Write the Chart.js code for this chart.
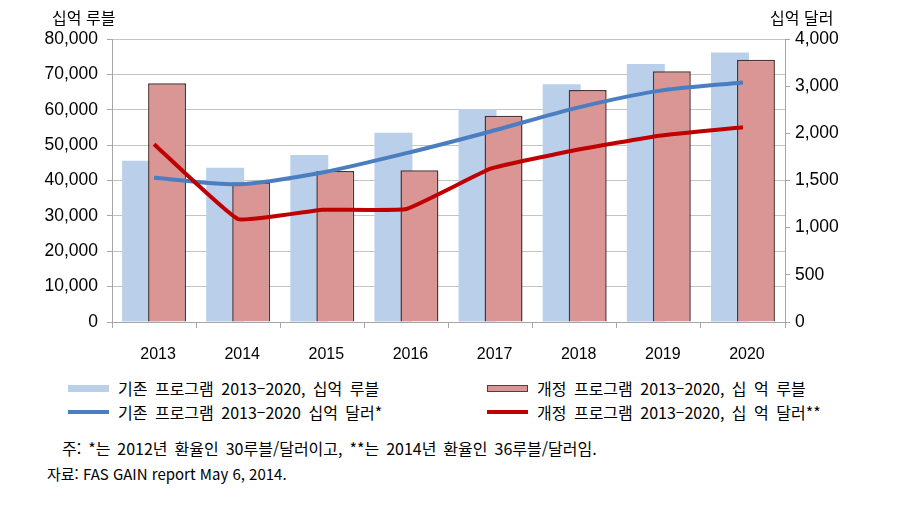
<!DOCTYPE html>
<html lang="ko">
<head>
<meta charset="utf-8">
<title>러시아 농업 프로그램 2013-2020</title>
<script src="https://cdn.jsdelivr.net/npm/chart.js@4.4.1/dist/chart.umd.min.js"></script>
<style>
  html, body {
    margin: 0;
    padding: 0;
    background: #fff;
  }
  .page {
    position: relative;
    width: 905px;
    height: 509px;
    overflow: hidden;
    font-family: "Noto Sans CJK KR", "Noto Sans", sans-serif;
    color: #000;
  }
  #chart {
    position: absolute;
    left: 0;
    top: 0;
  }
  .unit {
    position: absolute;
    top: 7px;
    font-size: 16px;
    line-height: 20px;
    white-space: nowrap;
  }
  .legend-item {
    position: absolute;
    height: 20px;
    display: flex;
    align-items: center;
    white-space: nowrap;
  }
  .legend-swatch {
    width: 41px;
    margin-right: 9px;
    box-sizing: border-box;
  }
  .swatch-bar-old { height: 7px; background: #b9cfea; }
  .swatch-bar-new { height: 7px; background: #d99695; border: 1px solid #5a3a3a; }
  .swatch-line-old { height: 4px; background: #4a7ec1; }
  .swatch-line-new { height: 4px; background: #c00000; }
  .legend-text {
    font-size: 16px;
    line-height: 20px;
    word-spacing: 3px;
  }
  .note {
    position: absolute;
    line-height: 20px;
    white-space: nowrap;
  }
</style>
</head>
<body>
<div class="page">
  <canvas id="chart" width="905" height="375"></canvas>

  <div class="unit" style="left:52px;">십억 루블</div>
  <div class="unit" style="left:770px;">십억 달러</div>

  <div class="legend-item" style="left:68px; top:378px;">
    <div class="legend-swatch swatch-bar-old"></div>
    <span class="legend-text">기존 프로그램 2013–2020, 십억 루블</span>
  </div>
  <div class="legend-item" style="left:68px; top:402px;">
    <div class="legend-swatch swatch-line-old"></div>
    <span class="legend-text">기존 프로그램 2013–2020 십억 달러*</span>
  </div>
  <div class="legend-item" style="left:487px; top:378px;">
    <div class="legend-swatch swatch-bar-new"></div>
    <span class="legend-text">개정 프로그램 2013–2020, 십 억 루블</span>
  </div>
  <div class="legend-item" style="left:487px; top:402px;">
    <div class="legend-swatch swatch-line-new"></div>
    <span class="legend-text">개정 프로그램 2013–2020, 십 억 달러**</span>
  </div>

  <div class="note" style="left:62px; top:438px; font-size:16px; word-spacing:2.5px;">주: *는 2012년 환율인 30루블/달러이고, **는 2014년 환율인 36루블/달러임.</div>
  <div class="note" style="left:47px; top:464px; font-size:15px;">자료: FAS GAIN report May 6, 2014.</div>
</div>

<script>
// categories
const years = ['2013', '2014', '2015', '2016', '2017', '2018', '2019', '2020'];

// billion rubles (left axis)
const oldProgramRub = [45600, 43600, 47200, 53500, 60200, 67200, 72900, 76200];
const newProgramRub = [67500, 39400, 42700, 42900, 58300, 65600, 70900, 74100];

// billion dollars (right axis)
const oldProgramUsd = [1530, 1460, 1585, 1790, 2020, 2265, 2450, 2540];
const newProgramUsd = [1885, 1090, 1190, 1198, 1625, 1820, 1975, 2065];

// right axis labels as printed in the source
const rightTickLabels = ['0', '500', '1,000', '1,500', '2,000', '3,000', '4,000'];

const AXIS_GREY = '#a6a6a6';
const GRID_GREY = '#c4c4c4';
const TICK_FONT = { family: '"Liberation Sans", Arial, sans-serif', size: 17.5 };

function renderChart() {
  const ctx = document.getElementById('chart');
  if (!ctx || typeof Chart === 'undefined') return;

  new Chart(ctx, {
    data: {
      labels: years,
      datasets: [
        {
          type: 'line',
          label: '개정 프로그램 2013–2020, 십 억 달러**',
          data: newProgramUsd,
          yAxisID: 'y2',
          borderColor: '#c00000',
          borderWidth: 4,
          pointRadius: 0,
          tension: 0.1,
          order: 0
        },
        {
          type: 'line',
          label: '기존 프로그램 2013–2020 십억 달러*',
          data: oldProgramUsd,
          yAxisID: 'y2',
          borderColor: '#4a7ec1',
          borderWidth: 4,
          pointRadius: 0,
          tension: 0.25,
          order: 1
        },
        {
          // empty helper so the "old" stack gets the left slot
          // while the red bars are still painted over the blue ones
          type: 'bar',
          label: '',
          data: years.map(() => null),
          stack: 'old',
          order: 2
        },
        {
          type: 'bar',
          label: '개정 프로그램 2013–2020, 십 억 루블',
          data: newProgramRub,
          yAxisID: 'y',
          stack: 'new',
          backgroundColor: '#d99695',
          borderColor: '#4d3333',
          borderWidth: 1.5,
          categoryPercentage: 0.618,
          barPercentage: 1.46,
          order: 3
        },
        {
          type: 'bar',
          label: '기존 프로그램 2013–2020, 십억 루블',
          data: oldProgramRub,
          yAxisID: 'y',
          stack: 'old',
          backgroundColor: '#b9cfea',
          borderWidth: 0,
          categoryPercentage: 0.618,
          barPercentage: 1.46,
          order: 4
        }
      ]
    },
    options: {
      responsive: false,
      animation: false,
      layout: { padding: { top: 39, left: 0, right: 0, bottom: 0 } },
      plugins: {
        legend: { display: false },
        tooltip: { enabled: false }
      },
      scales: {
        x: {
          type: 'category',
          offset: true,
          grid: {
            offset: true,
            drawOnChartArea: false,
            color: AXIS_GREY,
            tickLength: 6
          },
          border: { color: AXIS_GREY },
          ticks: {
            color: '#000',
            font: { family: TICK_FONT.family, size: 16 },
            padding: 17,
            labelOffset: 4,
            maxRotation: 0
          },
          afterFit: (scale) => { scale.height = 53; }
        },
        y: {
          type: 'linear',
          position: 'left',
          min: 0,
          max: 80000,
          ticks: {
            stepSize: 10000,
            color: '#000',
            font: TICK_FONT,
            padding: 9,
            callback: (v) => v.toLocaleString('en-US')
          },
          grid: {
            color: GRID_GREY,
            tickColor: AXIS_GREY,
            tickLength: 5
          },
          border: { color: AXIS_GREY },
          afterFit: (scale) => { scale.width = 112; }
        },
        y2: {
          type: 'linear',
          position: 'right',
          min: 0,
          max: 3000,
          ticks: {
            stepSize: 500,
            color: '#000',
            font: TICK_FONT,
            padding: 5,
            callback: (v, i) => rightTickLabels[i]
          },
          grid: {
            drawOnChartArea: false,
            color: AXIS_GREY,
            tickLength: 5
          },
          border: { color: AXIS_GREY },
          afterFit: (scale) => { scale.width = 120; }
        }
      }
    }
  });
}

renderChart();
</script>
</body>
</html>
